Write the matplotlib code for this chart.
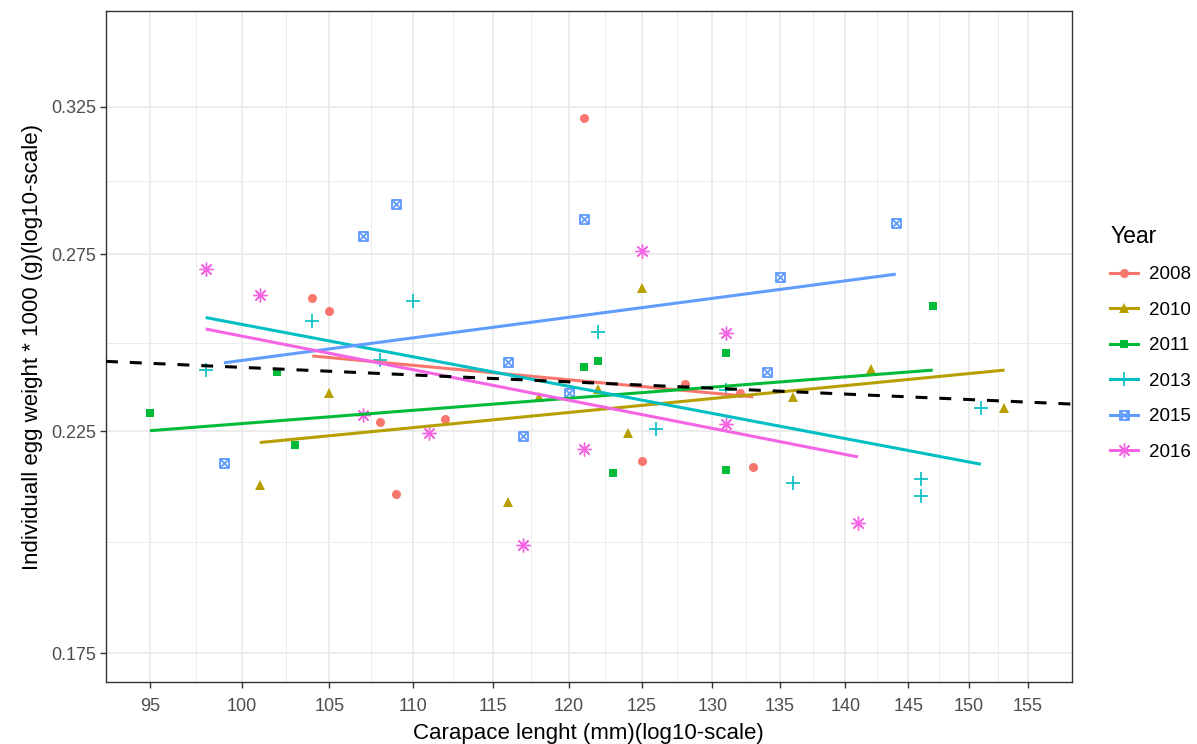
import matplotlib
matplotlib.use("Agg")
import matplotlib.pyplot as plt
import numpy as np
from matplotlib.path import Path
from matplotlib.lines import Line2D

plt.rcParams["font.family"] = ["Liberation Sans", "DejaVu Sans"]

# egg weight vs carapace length, one group per sampling year
years = ["2008", "2010", "2011", "2013", "2015", "2016"]

length_2008 = [104, 105, 108, 109, 112, 121, 125, 128, 132, 133]
weight_2008 = [0.2617, 0.2580, 0.2275, 0.2096, 0.2283, 0.3211, 0.2177, 0.2374, 0.2351, 0.2162]

length_2010 = [101, 105, 116, 118, 122, 124, 125, 136, 142, 153]
weight_2010 = [0.2117, 0.2350, 0.2077, 0.2340, 0.2362, 0.2245, 0.2646, 0.2339, 0.2414, 0.2310]

length_2011 = [95, 102, 103, 121, 122, 123, 131, 131, 147]
weight_2011 = [0.2297, 0.2406, 0.2216, 0.2421, 0.2436, 0.2147, 0.2458, 0.2155, 0.2594]

length_2013 = [98, 104, 108, 110, 122, 126, 131, 136, 146, 146, 151]
weight_2013 = [0.2412, 0.2551, 0.2441, 0.2609, 0.2518, 0.2257, 0.2358, 0.2122, 0.2132, 0.2091, 0.2310]

length_2015 = [99, 107, 109, 116, 117, 120, 121, 134, 135, 144]
weight_2015 = [0.2172, 0.2809, 0.2912, 0.2433, 0.2239, 0.2351, 0.2864, 0.2407, 0.2681, 0.2851]

length_2016 = [98, 101, 107, 111, 117, 121, 125, 131, 131, 141]
weight_2016 = [0.2704, 0.2627, 0.2292, 0.2246, 0.1978, 0.2207, 0.2761, 0.2517, 0.2270, 0.2029]

# fitted log-log regression lines (ends of each year's fit)
fit_x_2008, fit_y_2008 = [104, 133], [0.2451, 0.2340]
fit_x_2010, fit_y_2010 = [101, 153], [0.2222, 0.2412]
fit_x_2011, fit_y_2011 = [95, 147], [0.2252, 0.2412]
fit_x_2013, fit_y_2013 = [98, 151], [0.2560, 0.2168]
fit_x_2015, fit_y_2015 = [99, 144], [0.2432, 0.2689]
fit_x_2016, fit_y_2016 = [98, 141], [0.2527, 0.2186]

# pooled fit over all years
pooled_x = [92.7, 158.8]
pooled_y = [0.2436, 0.2321]

x_breaks = [95, 100, 105, 110, 115, 120, 125, 130, 135, 140, 145, 150, 155]
y_breaks = [0.175, 0.225, 0.275, 0.325]

points = {
    "2008": (length_2008, weight_2008),
    "2010": (length_2010, weight_2010),
    "2011": (length_2011, weight_2011),
    "2013": (length_2013, weight_2013),
    "2015": (length_2015, weight_2015),
    "2016": (length_2016, weight_2016),
}
fits = {
    "2008": (fit_x_2008, fit_y_2008),
    "2010": (fit_x_2010, fit_y_2010),
    "2011": (fit_x_2011, fit_y_2011),
    "2013": (fit_x_2013, fit_y_2013),
    "2015": (fit_x_2015, fit_y_2015),
    "2016": (fit_x_2016, fit_y_2016),
}

# ggplot default hue palette
colors = ["#F8766D", "#B79F00", "#00BA38", "#00BFC4", "#619CFF", "#F564E3"]

# square with a cross inside (shape 7)
box_x = Path(
    [(-1, -1), (1, -1), (1, 1), (-1, 1), (-1, -1), (-1, -1), (1, 1), (-1, 1), (1, -1)],
    [Path.MOVETO, Path.LINETO, Path.LINETO, Path.LINETO, Path.CLOSEPOLY,
     Path.MOVETO, Path.LINETO, Path.MOVETO, Path.LINETO],
)
marker_style = {
    "2008": dict(marker="o", ms=6.5, mew=0),
    "2010": dict(marker="^", ms=7, mew=0),
    "2011": dict(marker="s", ms=6, mew=0),
    "2013": dict(marker="+", ms=10, mew=1.2),
    "2015": dict(marker=box_x, ms=6.5, mew=1.3, mfc="none"),
    "2016": dict(marker=(8, 2, 0), ms=10, mew=1.0),
}

fig = plt.figure(figsize=(11.97, 7.44), dpi=100)
ax = fig.add_axes([0.0886, 0.0829, 0.8067, 0.9023])
ax.set_xscale("log")
ax.set_yscale("log")

for yr, col in zip(years, colors):
    xs, ys = points[yr]
    ax.plot(xs, ys, ls="none", color=col, zorder=3, **marker_style[yr])

for yr, col in zip(years, colors):
    fx, fy = fits[yr]
    ax.plot(fx, fy, color=col, lw=2.2, solid_capstyle="butt", zorder=4)

ax.plot(pooled_x, pooled_y, color="black", lw=2.2, ls=(0, (3.9, 3.9)), zorder=5)

# limits: data range expanded by 5% on the log scale
lx = np.log10([95, 155])
pad = 0.05 * (lx[1] - lx[0])
ax.set_xlim(10 ** (lx[0] - pad), 10 ** (lx[1] + pad))
ax.set_ylim(0.16934, 0.36230)

ax.set_xticks(x_breaks)
ax.set_xticklabels([str(v) for v in x_breaks])
ax.set_yticks(y_breaks)
ax.set_yticklabels([f"{v:.3f}" for v in y_breaks])
ax.set_xticks(np.sqrt(np.array(x_breaks[:-1]) * np.array(x_breaks[1:])), minor=True)
ax.set_yticks(np.sqrt(np.array(y_breaks[:-1]) * np.array(y_breaks[1:])), minor=True)
ax.tick_params(which="minor", length=0, labelbottom=False, labelleft=False)
ax.tick_params(which="major", length=4, width=1.0, color="#333333",
               labelsize=13, labelcolor="#4D4D4D")
ax.tick_params(axis="x", which="major", pad=7)
ax.tick_params(axis="y", which="major", pad=3)

ax.grid(which="major", color="#EBEBEB", lw=1.3, zorder=0)
ax.grid(which="minor", color="#EBEBEB", lw=0.7, zorder=0)
ax.set_axisbelow(True)
for sp in ax.spines.values():
    sp.set_color("#333333")
    sp.set_linewidth(1.0)

ax.set_xlabel("Carapace lenght (mm)(log10-scale)", fontsize=16, labelpad=6)
ax.set_ylabel("Individuall egg weight * 1000 (g)(log10-scale)", fontsize=16, labelpad=6)

handles = []
for yr, col in zip(years, colors):
    handles.append(Line2D([], [], color=col, lw=2.2, **marker_style[yr]))
leg = fig.legend(handles, years, title="Year", loc="upper left",
                 bbox_to_anchor=(0.9213, 0.708), frameon=False,
                 fontsize=13.5, title_fontsize=16.5, handlelength=1.5,
                 handletextpad=0.55, labelspacing=0.98, borderaxespad=0)
leg._legend_box.align = "left"

fig.savefig("out.png", dpi=100)
